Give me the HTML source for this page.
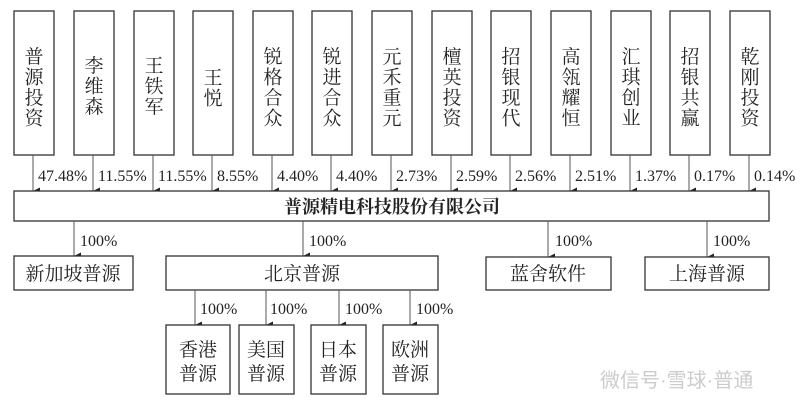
<!DOCTYPE html>
<html><head><meta charset="utf-8"><style>
html,body{margin:0;padding:0;background:#fff;}
svg{display:block;}
.c{font-family:"Liberation Serif","Noto Serif CJK SC",serif;font-size:19px;fill:#222;text-anchor:middle;}
.p{font-family:"Liberation Serif",serif;font-size:16px;fill:#222;}
rect{fill:#fff;stroke:#333;stroke-width:1.3;}
line{stroke:#555;stroke-width:1;}
</style></head><body>
<svg width="800" height="414" viewBox="0 0 800 414">
<defs><marker id="a" markerWidth="8" markerHeight="8" refX="4" refY="7" orient="auto" markerUnits="userSpaceOnUse"><path d="M0.5,0 L4,7 L7.5,0 Z" fill="#222"/></marker></defs>
<g id="top"></g>
<rect x="14" y="191" width="755" height="30"/>
<text class="c" x="392" y="213" style="font-weight:bold;font-size:18px">普源精电科技股份有限公司</text>
<line x1="74" y1="221" x2="74" y2="256" marker-end="url(#a)"/><text class="p" x="80" y="246">100%</text>
<line x1="303" y1="221" x2="303" y2="256" marker-end="url(#a)"/><text class="p" x="309" y="246">100%</text>
<line x1="548" y1="221" x2="548" y2="257" marker-end="url(#a)"/><text class="p" x="555" y="246">100%</text>
<line x1="707" y1="221" x2="707" y2="257" marker-end="url(#a)"/><text class="p" x="713" y="246">100%</text>
<rect x="14" y="256" width="119" height="34"/><text class="c" x="73" y="280">新加坡普源</text>
<rect x="166" y="256" width="272" height="34"/><text class="c" x="302" y="280">北京普源</text>
<rect x="486" y="257" width="125" height="33"/><text class="c" x="548" y="280">蓝舍软件</text>
<rect x="645" y="257" width="124" height="33"/><text class="c" x="707" y="280">上海普源</text>
<line x1="195" y1="290" x2="195" y2="325" marker-end="url(#a)"/><text class="p" x="200" y="314">100%</text>
<line x1="266" y1="290" x2="266" y2="325" marker-end="url(#a)"/><text class="p" x="270" y="314">100%</text>
<line x1="339" y1="290" x2="339" y2="325" marker-end="url(#a)"/><text class="p" x="345" y="314">100%</text>
<line x1="410" y1="290" x2="410" y2="325" marker-end="url(#a)"/><text class="p" x="416" y="314">100%</text>
<rect x="166" y="325" width="64" height="69"/><text class="c" x="198" y="356">香港</text><text class="c" x="198" y="380">普源</text>
<rect x="239" y="325" width="55" height="69"/><text class="c" x="266" y="356">美国</text><text class="c" x="266" y="380">普源</text>
<rect x="311" y="325" width="55" height="69"/><text class="c" x="338" y="356">日本</text><text class="c" x="338" y="380">普源</text>
<rect x="383" y="325" width="55" height="69"/><text class="c" x="410" y="356">欧洲</text><text class="c" x="410" y="380">普源</text>
<text x="600" y="387" style="font-family:'Liberation Sans','Noto Sans CJK SC',sans-serif;font-size:20px;fill:#ccc">微信号·雪球·普通</text>
</svg>
<script>
var d=[["普源投资","47.48%"],["李维森","11.55%"],["王铁军","11.55%"],["王悦","8.55%"],["锐格合众","4.40%"],["锐进合众","4.40%"],["元禾重元","2.73%"],["檀英投资","2.59%"],["招银现代","2.56%"],["高瓴耀恒","2.51%"],["汇琪创业","1.37%"],["招银共赢","0.17%"],["乾刚投资","0.14%"]];
var xs=[14,74,134,193,253,312,372,432,491,551,611,670,730];
var s="";
d.forEach(function(v,i){var x=xs[i],cx=x+20,n=v[0].length;
s+='<rect x="'+x+'" y="11" width="40" height="144"/>';
var start=n==4?63:(n==3?72:84);
for(var k=0;k<n;k++)s+='<text class="c" x="'+cx+'" y="'+(start+k*20.5)+'">'+v[0][k]+'</text>';
s+='<line x1="'+(cx-1)+'" y1="155" x2="'+(cx-1)+'" y2="191" marker-end="url(#a)"/>';
s+='<text class="p" x="'+(cx+4)+'" y="181">'+v[1]+'</text>';});
document.getElementById("top").innerHTML=s;
</script>
</body></html>
